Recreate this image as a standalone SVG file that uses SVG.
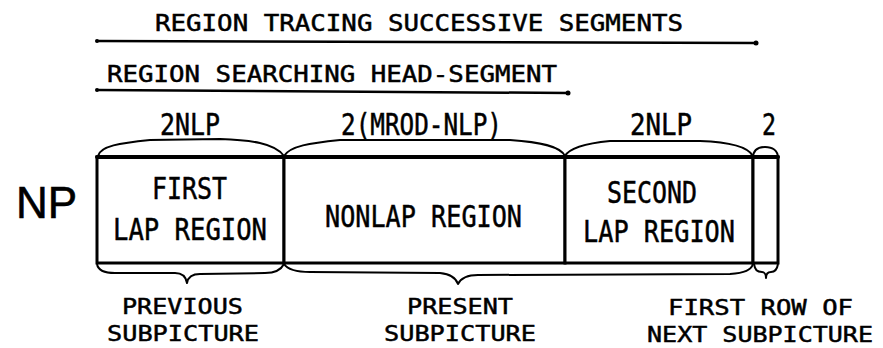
<svg xmlns="http://www.w3.org/2000/svg" width="883" height="348" viewBox="0 0 883 348">
<style>
.t{font-family:"DejaVu Sans Mono","Liberation Mono",monospace;fill:#000;stroke:#000;stroke-width:0.5;}
.s{font-size:23px;}
.q{font-size:22px;}
.m{font-size:30px;}
.b{font-size:31px;}
.ln{stroke:#000;stroke-width:2.5;fill:none;stroke-linecap:round;}
.br{stroke:#000;stroke-width:2;fill:none;stroke-linejoin:round;}
.bx{stroke:#000;stroke-width:3;fill:#fff;}
</style>
<rect width="883" height="348" fill="#fff"/>
<g id="span-tracing">
<text class="t s" x="155" y="31" textLength="528" lengthAdjust="spacingAndGlyphs">REGION TRACING SUCCESSIVE SEGMENTS</text>
</g>
<g id="span-searching">
<text class="t s" x="107" y="82" textLength="450" lengthAdjust="spacingAndGlyphs">REGION SEARCHING HEAD-SEGMENT</text>
</g>
<g id="np-label">
<text x="16" y="218" font-family="Liberation Sans, Arial, sans-serif" font-size="44" stroke="#000" stroke-width="0.6">NP</text>
</g>
<g id="size-labels">
<text class="t m" x="160" y="135" textLength="60" lengthAdjust="spacingAndGlyphs">2NLP</text>
<text class="t m" x="341" y="135" textLength="161" lengthAdjust="spacingAndGlyphs">2(MROD-NLP)</text>
<text class="t m" x="630" y="135" textLength="62" lengthAdjust="spacingAndGlyphs">2NLP</text>
<text class="t m" x="762" y="135" textLength="14" lengthAdjust="spacingAndGlyphs">2</text>
</g>
<g id="first-lap">
<rect class="bx" x="97" y="157" width="187" height="106"/>
<text class="t b" x="152" y="199" textLength="75" lengthAdjust="spacingAndGlyphs">FIRST</text>
<text class="t b" x="113" y="240" textLength="154" lengthAdjust="spacingAndGlyphs">LAP REGION</text>
</g>
<g id="nonlap">
<rect class="bx" x="284" y="157" width="281" height="106"/>
<text class="t b" x="325" y="227" textLength="197" lengthAdjust="spacingAndGlyphs">NONLAP REGION</text>
</g>
<g id="second-lap">
<rect class="bx" x="565" y="157" width="188" height="106"/>
<text class="t b" x="607" y="203" textLength="90" lengthAdjust="spacingAndGlyphs">SECOND</text>
<text class="t b" x="583" y="242" textLength="152" lengthAdjust="spacingAndGlyphs">LAP REGION</text>
</g>
<g id="first-row">
<rect class="bx" x="753" y="157" width="25" height="106"/>
</g>
<g id="subpicture-labels">
<text class="t q" x="122" y="314" textLength="121" lengthAdjust="spacingAndGlyphs">PREVIOUS</text>
<text class="t q" x="107" y="341" textLength="152" lengthAdjust="spacingAndGlyphs">SUBPICTURE</text>
<text class="t q" x="407" y="314" textLength="106" lengthAdjust="spacingAndGlyphs">PRESENT</text>
<text class="t q" x="384" y="341" textLength="152" lengthAdjust="spacingAndGlyphs">SUBPICTURE</text>
<text class="t q" x="668" y="315" textLength="185" lengthAdjust="spacingAndGlyphs">FIRST ROW OF</text>
<text class="t q" x="647" y="342" textLength="226" lengthAdjust="spacingAndGlyphs">NEXT SUBPICTURE</text>
</g>
<g id="connectors">
<path class="ln" d="M97,41 L756,43"/>
<circle cx="97" cy="41" r="2"/><circle cx="756" cy="43" r="2.5"/>
<path class="ln" d="M97,90 L568,93"/>
<circle cx="97" cy="90" r="2"/><circle cx="568" cy="93" r="2.5"/>
<path class="ln" d="M97,157 L778,157" style="stroke-width:4"/>
<path class="br" d="M98,156 C100,146 120,143 150,140 L220,139 C250,140 275,143 284,156"/>
<path class="br" d="M284,156 C290,146 310,143 340,140 L510,140 C540,142 560,146 565,156"/>
<path class="br" d="M565,156 C570,147 590,143 610,141 L700,141 C730,142 748,147 753,156"/>
<path class="br" d="M753,158 C753,150 758,147 765,147 C772,147 778,150 778,158"/>
<path class="br" d="M97,264 C98,270 104,273 115,273 L175,273 C182,273 186,277 187,283 C188,277 193,274 200,274 L265,273 C275,273 281,270 284,264"/>
<path class="br" d="M284,264 C288,270 296,272 310,272 L440,273 C450,274 456,278 458,284 C461,278 467,275 478,275 L730,274 C745,273 751,270 753,264"/>
<path class="br" d="M754,264 C755,270 757,272 762,272 C764,272 766,274 766,278 C766,274 768,272 771,272 C775,272 777,270 778,264"/>
</g>
</svg>
